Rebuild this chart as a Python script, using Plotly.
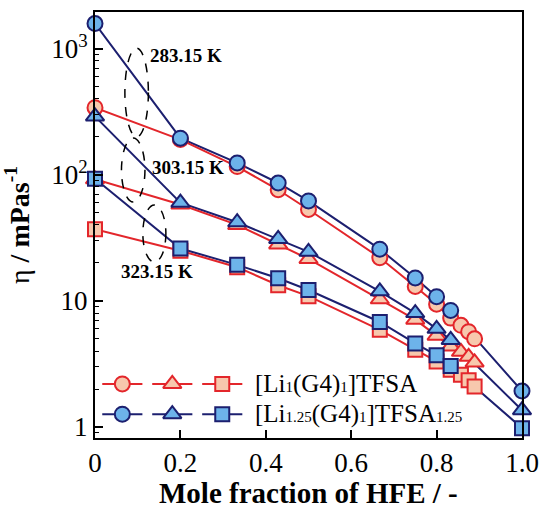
import plotly.graph_objects as go

# HFE mole fraction and viscosity (mPa s) for the two electrolytes
x_li1 = [0, 0.2, 0.333, 0.429, 0.5, 0.667, 0.75, 0.8, 0.833, 0.857, 0.875, 0.889]
li1_283 = [340, 190, 116, 76, 53, 22, 13.0, 9.4, 7.3, 6.4, 5.7, 5.0]
li1_303 = [92, 58, 40, 28, 21.5, 10.3, 7.1, 5.3, 4.35, 3.95, 3.6, 3.25]
li1_323 = [37, 25, 18.5, 13.3, 10.9, 5.9, 4.1, 3.3, 2.85, 2.6, 2.35, 2.1]

x_li125 = [0, 0.2, 0.333, 0.429, 0.5, 0.667, 0.75, 0.8, 0.833, 1.0]
li125_283 = [1580, 195, 124, 86, 62, 25.7, 15.2, 10.8, 8.4, 1.93]
li125_303 = [290, 60, 42, 31, 24.5, 11.9, 8.0, 6.0, 4.9, 1.36]
li125_323 = [93, 26, 19.3, 15.1, 12.2, 6.8, 4.6, 3.7, 3.05, 0.98]

temperatures = ["283.15 K", "303.15 K", "323.15 K"]
symbols = ["circle", "triangle-up", "square"]
sizes = [15, 16, 14]
SUB = '<span style="font-size:15px">%s</span>'
legend_labels = ["[Li" + SUB % "1" + "(G4)" + SUB % "1" + "]TFSA",
                 "[Li" + SUB % "1.25" + "(G4)" + SUB % "1" + "]TFSA" + SUB % "1.25"]

RED_LINE, RED_FILL = "#E3262B", "#F7C8AD"
BLUE_LINE, BLUE_FILL = "#1C1F6F", "#6DB3EA"
FONT = "Liberation Serif"

fig = go.Figure()

red_sets = [li1_283, li1_303, li1_323]
blue_sets = [li125_283, li125_303, li125_323]

# navy connecting lines go underneath everything
for ys in blue_sets:
    fig.add_trace(go.Scatter(x=x_li125, y=ys, mode="lines",
                             line=dict(color=BLUE_LINE, width=2),
                             showlegend=False, cliponaxis=False, hoverinfo="skip"))

for ys, sym, sz in zip(red_sets, symbols, sizes):
    fig.add_trace(go.Scatter(x=x_li1, y=ys, mode="lines+markers",
                             line=dict(color=RED_LINE, width=2),
                             marker=dict(symbol=sym, size=sz, color=RED_FILL,
                                         line=dict(color=RED_LINE, width=2)),
                             showlegend=False, cliponaxis=False))

for ys, sym, sz in zip(blue_sets, symbols, sizes):
    fig.add_trace(go.Scatter(x=x_li125, y=ys, mode="markers",
                             marker=dict(symbol=sym, size=sz, color=BLUE_FILL,
                                         line=dict(color=BLUE_LINE, width=2)),
                             showlegend=False, cliponaxis=False))

# hand-built legend on an overlay axis spanning the plot area
leg_x = [0.064, 0.181, 0.298]
leg_half = 0.047
leg_rows = [0.127, 0.056]
for row_y, lc, fc in zip(leg_rows, [RED_LINE, BLUE_LINE], [RED_FILL, BLUE_FILL]):
    for cx, sym, sz in zip(leg_x, symbols, sizes):
        fig.add_trace(go.Scatter(x=[cx - leg_half, cx + leg_half], y=[row_y, row_y],
                                 mode="lines", line=dict(color=lc, width=2),
                                 xaxis="x2", yaxis="y2", showlegend=False,
                                 hoverinfo="skip"))
        fig.add_trace(go.Scatter(x=[cx], y=[row_y], mode="markers",
                                 marker=dict(symbol=sym, size=sz, color=fc,
                                             line=dict(color=lc, width=2)),
                                 xaxis="x2", yaxis="y2", showlegend=False,
                                 hoverinfo="skip"))

annotations = []
for row_y, label in zip(leg_rows, legend_labels):
    annotations.append(dict(x=0.37, y=row_y, xref="paper", yref="paper",
                            text=label, showarrow=False, xanchor="left",
                            yanchor="middle", font=dict(family=FONT, size=25, color="black")))

# x-axis title placed below the tick labels
annotations.append(dict(x=0.5, y=-0.129, xref="paper", yref="paper",
                        text="<b>Mole fraction of HFE / -</b>", showarrow=False,
                        xanchor="center", yanchor="middle",
                        font=dict(family=FONT, size=29, color="black")))

# temperature labels with dashed ellipses
ellipses = [(0.070, 0.125, 0.707, 0.915),
            (0.062, 0.117, 0.554, 0.704),
            (0.112, 0.166, 0.413, 0.547)]
label_pos = [(0.124, 0.899), (0.129, 0.634), (0.057, 0.392)]
shapes = []
for (x0, x1, y0, y1) in ellipses:
    shapes.append(dict(type="circle", xref="paper", yref="paper",
                       x0=x0, x1=x1, y0=y0, y1=y1,
                       line=dict(color="black", width=1.5, dash="dash")))
for (lx, ly), t in zip(label_pos, temperatures):
    annotations.append(dict(x=lx, y=ly, xref="paper", yref="paper", text="<b>%s</b>" % t,
                            showarrow=False, xanchor="left", yanchor="middle",
                            font=dict(family=FONT, size=19, color="black")))

fig.update_layout(
    width=542, height=510,
    margin=dict(l=95, r=20, t=12, b=72),
    paper_bgcolor="white", plot_bgcolor="white",
    font=dict(family=FONT, color="black"),
    shapes=shapes, annotations=annotations,
    xaxis=dict(range=[0, 1.0], tickvals=[0, 0.2, 0.4, 0.6, 0.8, 1.0],
               ticktext=["0", "0.2", "0.4", "0.6", "0.8", "1.0"],
               ticks="inside", ticklen=8, tickwidth=1.5, tickcolor="black",
               showline=True, linecolor="black", linewidth=2, mirror=True,
               showgrid=False, zeroline=False, automargin=False,
               tickfont=dict(family=FONT, size=27)),
    yaxis=dict(type="log", range=[-0.087, 3.29],
               tickvals=[1, 10, 100, 1000],
               ticktext=["1", "10", "10<sup>2</sup>", "10<sup>3</sup>"],
               ticks="inside", ticklen=8, tickwidth=1.5, tickcolor="black",
               minor=dict(ticks="inside", ticklen=4, tickwidth=1, tickcolor="black",
                          dtick="D1", showgrid=False),
               showline=True, linecolor="black", linewidth=2, mirror=True,
               showgrid=False, zeroline=False, automargin=False,
               tickfont=dict(family=FONT, size=27),
               title=dict(text="η<b> / mPas<sup>-1</sup></b>",
                          font=dict(family=FONT, size=28))),
    xaxis2=dict(range=[0, 1], overlaying="x", visible=False, fixedrange=True),
    yaxis2=dict(range=[0, 1], overlaying="y", visible=False, fixedrange=True),
)

fig.write_html("out.html")
